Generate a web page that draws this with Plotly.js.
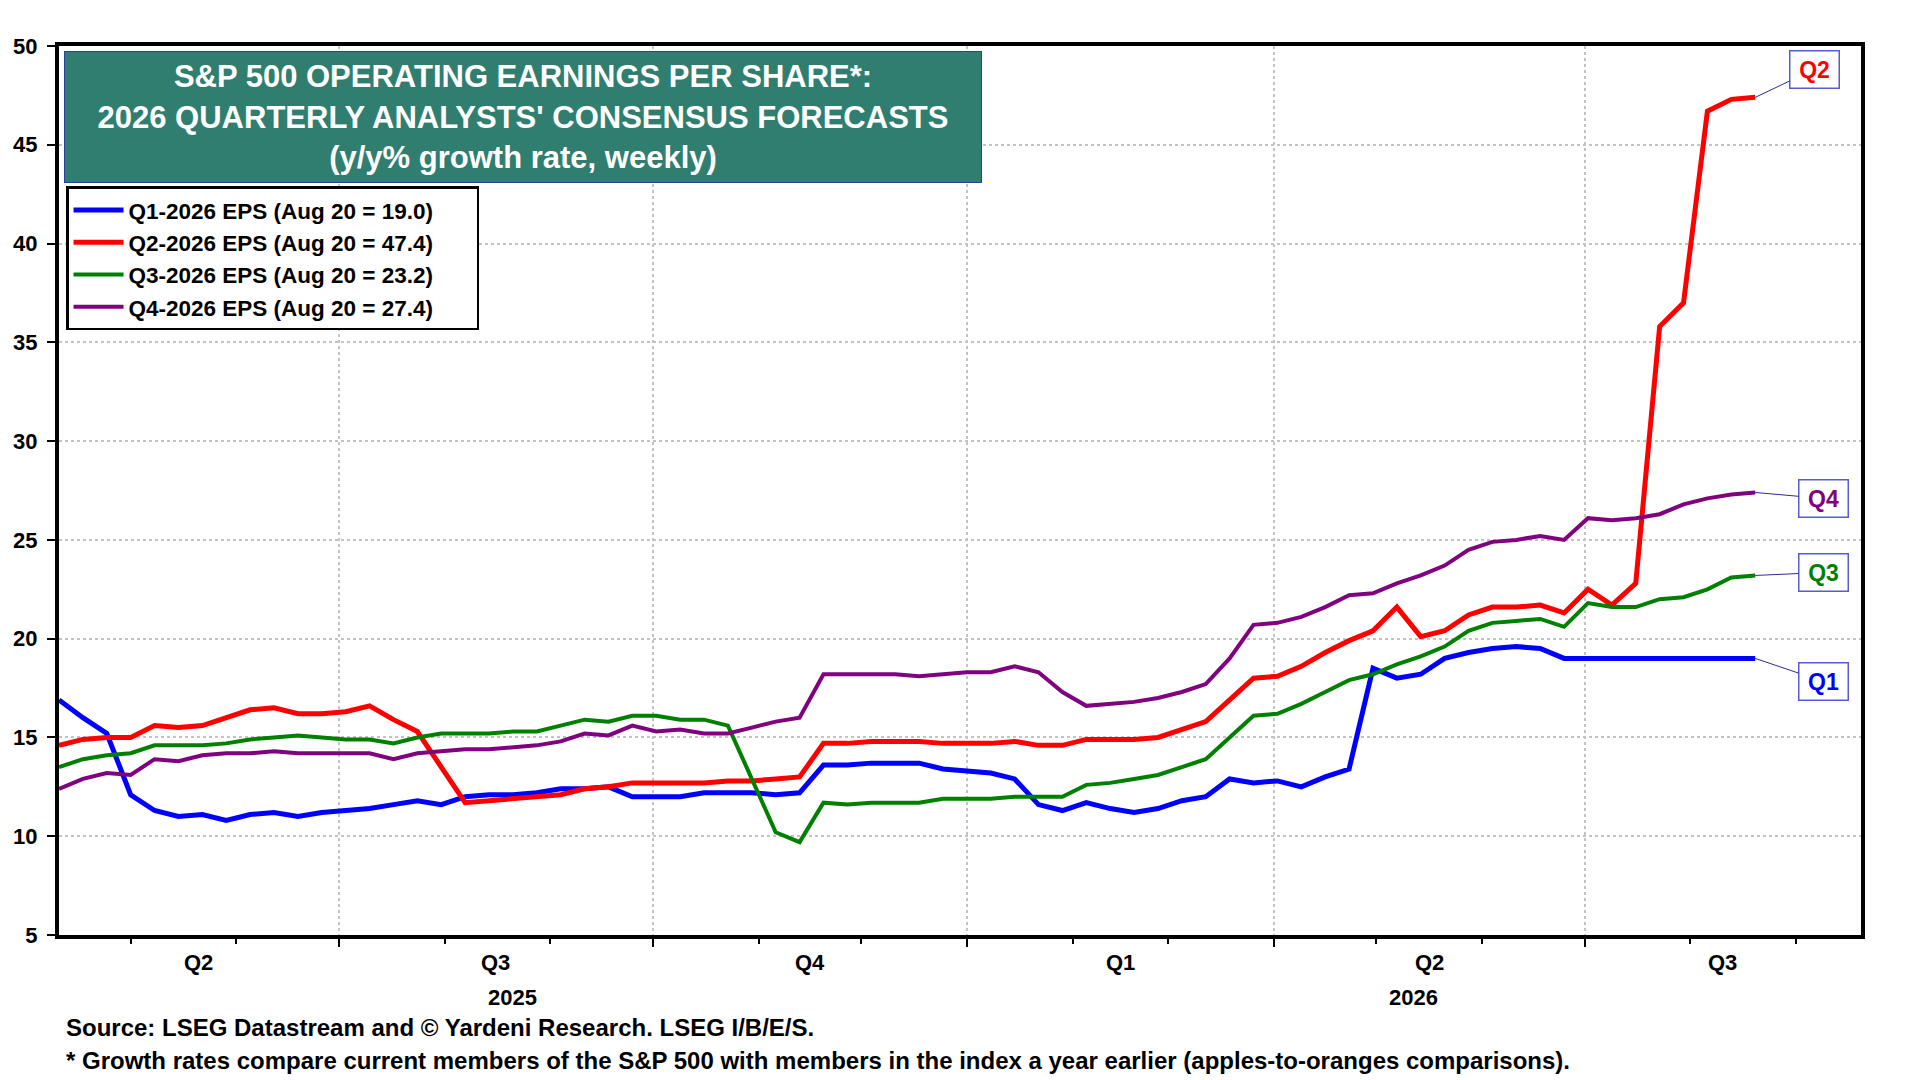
<!DOCTYPE html>
<html>
<head>
<meta charset="utf-8">
<script src="https://cdn.plot.ly/plotly-3.0.1.min.js"></script>
<style>
  html, body { margin: 0; padding: 0; background: #fff; }
  #chart { width: 1920px; height: 1080px; }
</style>
</head>
<body>
<div id="chart"></div>
<script>
// weekly observations (Thursdays)
const weeks = [
  '2025-04-10','2025-04-17','2025-04-24','2025-05-01','2025-05-08','2025-05-15','2025-05-22','2025-05-29',
  '2025-06-05','2025-06-12','2025-06-19','2025-06-26','2025-07-03','2025-07-10','2025-07-17','2025-07-24',
  '2025-07-31','2025-08-07','2025-08-14','2025-08-21','2025-08-28','2025-09-04','2025-09-11','2025-09-18',
  '2025-09-25','2025-10-02','2025-10-09','2025-10-16','2025-10-23','2025-10-30','2025-11-06','2025-11-13',
  '2025-11-20','2025-11-27','2025-12-04','2025-12-11','2025-12-18','2025-12-25','2026-01-01','2026-01-08',
  '2026-01-15','2026-01-22','2026-01-29','2026-02-05','2026-02-12','2026-02-19','2026-02-26','2026-03-05',
  '2026-03-12','2026-03-19','2026-03-26','2026-04-02','2026-04-09','2026-04-16','2026-04-23','2026-04-30',
  '2026-05-07','2026-05-14','2026-05-21','2026-05-28','2026-06-04','2026-06-11','2026-06-18','2026-06-25',
  '2026-07-02','2026-07-09','2026-07-16','2026-07-23','2026-07-30','2026-08-06','2026-08-13','2026-08-20'
];

const q1_eps = [
  16.9, 16.0, 15.2, 12.1, 11.3, 11.0, 11.1, 10.8, 11.1, 11.2, 11.0, 11.2, 11.3, 11.4, 11.6, 11.8,
  11.6, 12.0, 12.1, 12.1, 12.2, 12.4, 12.4, 12.5, 12.0, 12.0, 12.0, 12.2, 12.2, 12.2, 12.1, 12.2,
  13.6, 13.6, 13.7, 13.7, 13.7, 13.4, 13.3, 13.2, 12.9, 11.6, 11.3, 11.7, 11.4, 11.2, 11.4, 11.8,
  12.0, 12.9, 12.7, 12.8, 12.5, 13.0, 13.4, 18.5, 18.0, 18.2, 19.0, 19.3, 19.5, 19.6, 19.5, 19.0,
  19.0, 19.0, 19.0, 19.0, 19.0, 19.0, 19.0, 19.0
];

const q2_eps = [
  14.6, 14.9, 15.0, 15.0, 15.6, 15.5, 15.6, 16.0, 16.4, 16.5, 16.2, 16.2, 16.3, 16.6, 15.9, 15.3,
  13.5, 11.7, 11.8, 11.9, 12.0, 12.1, 12.4, 12.5, 12.7, 12.7, 12.7, 12.7, 12.8, 12.8, 12.9, 13.0,
  14.7, 14.7, 14.8, 14.8, 14.8, 14.7, 14.7, 14.7, 14.8, 14.6, 14.6, 14.9, 14.9, 14.9, 15.0, 15.4,
  15.8, 16.9, 18.0, 18.1, 18.6, 19.3, 19.9, 20.4, 21.6, 20.1, 20.4, 21.2, 21.6, 21.6, 21.7, 21.3,
  22.5, 21.7, 22.8, 35.8, 37.0, 46.7, 47.3, 47.4
];

const q3_eps = [
  13.5, 13.9, 14.1, 14.2, 14.6, 14.6, 14.6, 14.7, 14.9, 15.0, 15.1, 15.0, 14.9, 14.9, 14.7, 15.0,
  15.2, 15.2, 15.2, 15.3, 15.3, 15.6, 15.9, 15.8, 16.1, 16.1, 15.9, 15.9, 15.6, 12.9, 10.2, 9.7,
  11.7, 11.6, 11.7, 11.7, 11.7, 11.9, 11.9, 11.9, 12.0, 12.0, 12.0, 12.6, 12.7, 12.9, 13.1, 13.5,
  13.9, 15.0, 16.1, 16.2, 16.7, 17.3, 17.9, 18.2, 18.7, 19.1, 19.6, 20.4, 20.8, 20.9, 21.0, 20.6,
  21.8, 21.6, 21.6, 22.0, 22.1, 22.5, 23.1, 23.2
];

const q4_eps = [
  12.4, 12.9, 13.2, 13.1, 13.9, 13.8, 14.1, 14.2, 14.2, 14.3, 14.2, 14.2, 14.2, 14.2, 13.9, 14.2,
  14.3, 14.4, 14.4, 14.5, 14.6, 14.8, 15.2, 15.1, 15.6, 15.3, 15.4, 15.2, 15.2, 15.5, 15.8, 16.0,
  18.2, 18.2, 18.2, 18.2, 18.1, 18.2, 18.3, 18.3, 18.6, 18.3, 17.3, 16.6, 16.7, 16.8, 17.0, 17.3,
  17.7, 19.0, 20.7, 20.8, 21.1, 21.6, 22.2, 22.3, 22.8, 23.2, 23.7, 24.5, 24.9, 25.0, 25.2, 25.0,
  26.1, 26.0, 26.1, 26.3, 26.8, 27.1, 27.3, 27.4
];

const series_names = [
  'Q1-2026 EPS (Aug 20 = 19.0)',
  'Q2-2026 EPS (Aug 20 = 47.4)',
  'Q3-2026 EPS (Aug 20 = 23.2)',
  'Q4-2026 EPS (Aug 20 = 27.4)'
];
const end_tags = ['Q1', 'Q2', 'Q3', 'Q4'];
const series_colors = ['#0000ff', '#ff0000', '#008000', '#800080'];

const quarter_labels = ['Q2', 'Q3', 'Q4', 'Q1', 'Q2', 'Q3'];
const quarter_starts = ['2025-04-01', '2025-07-01', '2025-10-01', '2026-01-01', '2026-04-01', '2026-07-01', '2026-10-01'];
const year_labels = ['2025', '2026'];
const year_starts = ['2025-01-01', '2026-01-01', '2027-01-01'];

const x_range = ['2025-04-10', '2026-09-20'];

// label positions: middle of the visible part of each period
function ms(d) { return new Date(d + 'T00:00:00Z').getTime(); }
function toStr(t) { return new Date(t).toISOString().slice(0, 19).replace('T', ' '); }
function visibleMids(starts) {
    const lo = ms(x_range[0]), hi = ms(x_range[1]);
    const out = [];
    for (let i = 0; i < starts.length - 1; i++) {
        const a = Math.max(ms(starts[i]), lo);
        const b = Math.min(ms(starts[i + 1]), hi);
        if (b > a) out.push(toStr((a + b) / 2));
    }
    return out;
}
const quarter_mids = visibleMids(quarter_starts);
const year_mids = visibleMids(year_starts);

const all_series = [q1_eps, q2_eps, q3_eps, q4_eps];
const widths = [5, 5, 4, 4];
// a little room on the right of the legend text, as in the original box
const legend_pad = '\u00a0\u00a0\u00a0\u00a0\u00a0\u00a0';

const traces = [];
for (let i = 0; i < all_series.length; i++) {
    traces.push({
        x: weeks,
        y: all_series[i],
        type: 'scatter',
        mode: 'lines',
        name: series_names[i] + legend_pad,
        line: { color: series_colors[i], width: widths[i] },
        hoverinfo: 'skip'
    });
}

const annotations = [];

// boxes at the end of each line
const tag_offsets = [[68, 23], [59, -28], [68, -3], [68, 6]];
for (let i = 0; i < all_series.length; i++) {
    const ys = all_series[i];
    annotations.push({
        x: weeks[weeks.length - 1],
        y: ys[ys.length - 1],
        xref: 'x', yref: 'y',
        text: end_tags[i],
        showarrow: true, arrowhead: 0, arrowwidth: 1, arrowcolor: '#2b2ba0',
        ax: tag_offsets[i][0], ay: tag_offsets[i][1],
        width: 48, height: 36,
        bgcolor: '#ffffff', bordercolor: '#5a5ad0', borderwidth: 1.5, borderpad: 0,
        font: { size: 23, color: series_colors[i], weight: 700 }
    });
}

// quarter and year labels under the axis
for (let i = 0; i < quarter_mids.length; i++) {
    annotations.push({
        x: quarter_mids[i], xref: 'x', y: -0.031, yref: 'paper',
        yanchor: 'middle', showarrow: false, text: quarter_labels[i],
        font: { size: 22, weight: 700 }
    });
}
for (let i = 0; i < year_mids.length; i++) {
    annotations.push({
        x: year_mids[i], xref: 'x', y: -0.070, yref: 'paper',
        yanchor: 'middle', showarrow: false, text: year_labels[i],
        font: { size: 22, weight: 700 }
    });
}

// title box
annotations.push({
    xref: 'paper', yref: 'paper', x: 0.0028, y: 0.994,
    xanchor: 'left', yanchor: 'top',
    text: "S&P 500 OPERATING EARNINGS PER SHARE*:<br>2026 QUARTERLY ANALYSTS' CONSENSUS FORECASTS<br>(y/y% growth rate, weekly)",
    showarrow: false, align: 'center',
    width: 914, height: 128,
    bgcolor: '#2f7e70', bordercolor: '#2b3f9c', borderwidth: 1,
    font: { size: 31, color: '#ffffff', weight: 700 }
});

// source notes
annotations.push({
    xref: 'paper', yref: 'paper', x: 0.0025, y: -0.104,
    xanchor: 'left', yanchor: 'middle', showarrow: false,
    text: 'Source: LSEG Datastream and \u00a9 Yardeni Research. LSEG I/B/E/S.',
    font: { size: 24, color: '#000000', weight: 700 }
});
annotations.push({
    xref: 'paper', yref: 'paper', x: 0.0025, y: -0.141,
    xanchor: 'left', yanchor: 'middle', showarrow: false,
    text: '* Growth rates compare current members of the S&P 500 with members in the index a year earlier (apples-to-oranges comparisons).',
    font: { size: 24, color: '#000000', weight: 700 }
});

const gridStyle = { showgrid: true, gridcolor: '#c4c4c4', griddash: 'dot', gridwidth: 2 };

const layout = {
    width: 1920,
    height: 1080,
    margin: { l: 59, r: 59, t: 46, b: 145 },
    paper_bgcolor: '#ffffff',
    plot_bgcolor: '#ffffff',
    font: { family: 'Liberation Sans, Arial, sans-serif', size: 20, color: '#000000', weight: 700 },
    showlegend: true,
    legend: {
        x: 0.0039, y: 0.842, xanchor: 'left', yanchor: 'top',
        bgcolor: '#ffffff', bordercolor: '#000000', borderwidth: 2.5,
        font: { size: 22.5, weight: 700 },
        tracegroupgap: 0, itemwidth: 50
    },
    xaxis: Object.assign({
        type: 'date', range: x_range,
        tick0: '2025-01-01', dtick: 'M3',
        ticks: 'outside', ticklen: 8, tickwidth: 2, tickcolor: '#000000',
        showticklabels: false,
        showline: true, linewidth: 4, linecolor: '#000000', mirror: true,
        zeroline: false,
        minor: { tick0: '2025-01-01', dtick: 'M1', ticks: 'outside', ticklen: 5, tickwidth: 2, tickcolor: '#000000', showgrid: false }
    }, gridStyle),
    yaxis: Object.assign({
        range: [5, 50], dtick: 5, tick0: 5,
        ticks: 'outside', ticklen: 8, tickwidth: 2, tickcolor: '#000000',
        showline: true, linewidth: 4, linecolor: '#000000', mirror: true,
        zeroline: false,
        tickfont: { size: 22, weight: 700 }, ticklabelstandoff: 5
    }, gridStyle),
    yaxis2: {
        range: [5, 50], dtick: 5, tick0: 5, overlaying: 'y', side: 'right', anchor: 'x',
        ticks: 'outside', ticklen: 8, tickwidth: 2, tickcolor: '#000000',
        showgrid: false, showline: false, zeroline: false,
        tickfont: { size: 22, weight: 700 }, ticklabelstandoff: 5
    },
    annotations: annotations
};

Plotly.newPlot('chart', traces, layout, { staticPlot: true, displayModeBar: false });
</script>
</body>
</html>
